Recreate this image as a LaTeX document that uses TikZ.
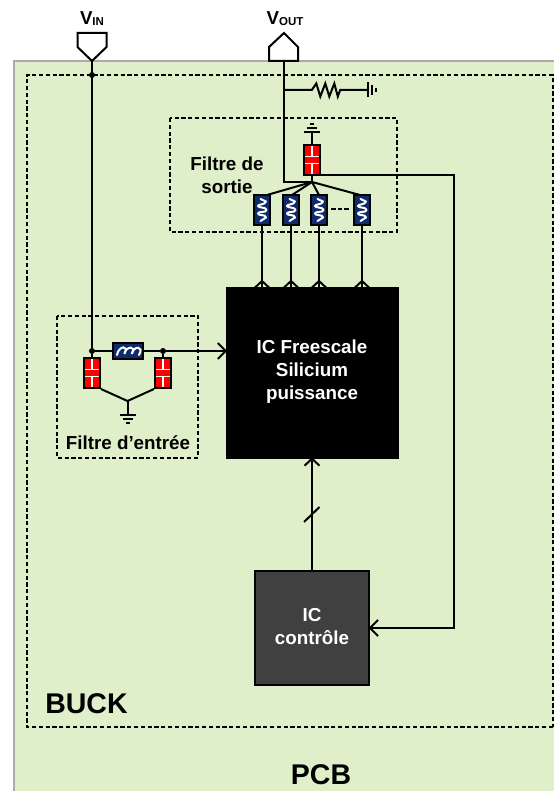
\documentclass[tikz,border=0pt]{standalone}
\usepackage{fontspec}
\setmainfont{Liberation Sans}
\usetikzlibrary{calc}
\definecolor{pcbgreen}{HTML}{DEEFCA}
\definecolor{pcbedge}{HTML}{ABABAB}
\definecolor{coilblue}{HTML}{0F2B6B}
\definecolor{ctrlgrey}{HTML}{404040}
\tikzset{
  wire/.style={line width=2pt,line cap=butt,line join=miter},
  dash box/.style={draw=black,line width=2pt,dash pattern=on 4.2pt off 2.6pt},
  txt/.style={font=\fontsize{18.8}{23}\selectfont\bfseries,inner sep=0pt,align=center},
  bigtxt/.style={font=\fontsize{28.5}{30}\selectfont\bfseries,inner sep=0pt},
  captall/.style={draw=black,fill=red,line width=2pt,minimum width=16pt,minimum height=30pt,inner sep=0pt},
  coilv/.style={draw=black,fill=coilblue,line width=2pt,minimum width=16pt,minimum height=30pt,inner sep=0pt},
  coilh/.style={draw=black,fill=coilblue,line width=2pt,minimum width=30pt,minimum height=16pt,inner sep=0pt},
  dot/.style={circle,fill=black,minimum size=6pt,inner sep=0pt},
  pinshape/.style={draw=black,fill=white,line width=2pt,line join=miter}
}
\newcommand{\capmark}[1]{%
  \draw[white,line width=1.8pt] ($(#1.north)+(0,2)$) -- ($(#1)+(0,-3.5)$);
  \draw[white,line width=1.8pt] ($(#1.south)+(0,-2)$) -- ($(#1)+(0,3.5)$);
  \draw[white,line width=1.8pt] ($(#1)+(-7,-3.5)$) -- ($(#1)+(7,-3.5)$);
  \draw[white,line width=1.8pt] ($(#1)+(-7,3.5)$) -- ($(#1)+(7,3.5)$);
}
\newcommand{\coilmarkv}[1]{%
  \draw[white,line width=2pt,line cap=round,line join=round] ($(#1)+(-1.5,-11)$)
    -- ($(#1)+(4,-8.5)$) .. controls ($(#1)+(3,-5)$) and ($(#1)+(-4,-6)$) .. ($(#1)+(-4,-4)$)
    .. controls ($(#1)+(-4,-2)$) and ($(#1)+(4.5,-3)$) .. ($(#1)+(4.5,0)$)
    .. controls ($(#1)+(4.5,3)$) and ($(#1)+(-4,1)$) .. ($(#1)+(-4,3.5)$)
    .. controls ($(#1)+(-4,6)$) and ($(#1)+(4,4)$) .. ($(#1)+(4,7.5)$)
    -- ($(#1)+(-1.5,11)$);
}
\newcommand{\coilmarkh}[1]{%
  \draw[white,line width=2pt,line cap=round] ($(#1)+(-11,4)$)
    .. controls +(1.5,-9.5) and +(5.5,-9.5) .. ($(#1)+(-3.7,3)$)
    .. controls +(1.5,-8.5) and +(5.9,-8.5) .. ($(#1)+(3.7,3)$)
    .. controls +(1.5,-8.5) and +(5.8,-9.5) .. ($(#1)+(11,4)$);
}
\newcommand{\gnddown}[1]{%
  \draw[line width=2pt] ($(#1)+(-8,0)$) -- ($(#1)+(8,0)$);
  \draw[line width=2pt] ($(#1)+(-5,4)$) -- ($(#1)+(5,4)$);
  \draw[line width=2pt] ($(#1)+(-2,8)$) -- ($(#1)+(2,8)$);
}
\newcommand{\gndup}[1]{%
  \draw[line width=2pt] ($(#1)+(-8,0)$) -- ($(#1)+(8,0)$);
  \draw[line width=2pt] ($(#1)+(-5,-4)$) -- ($(#1)+(5,-4)$);
  \draw[line width=2pt] ($(#1)+(-2,-8)$) -- ($(#1)+(2,-8)$);
}
\newcommand{\chevup}[1]{\draw[wire] ($(#1)+(-7.5,7)$) -- (#1) -- ($(#1)+(7.5,7)$);}
\newcommand{\chevleft}[1]{\draw[wire] ($(#1)+(8,-8)$) -- (#1) -- ($(#1)+(8,8)$);}
\newcommand{\chevright}[1]{\draw[wire] ($(#1)+(-8,-8)$) -- (#1) -- ($(#1)+(-8,8)$);}
\begin{document}
\begin{tikzpicture}[x=1pt,y=-1pt]
\useasboundingbox (0,0) rectangle (554,791);
% boards
\path[fill=pcbgreen] (14,61) rectangle (554,791);
\draw[pcbedge,line width=2pt] (14,791) -- (14,61) -- (554,61);
\draw[dash box] (553,727) -- (27,727) -- (27,75) -- (553,75) -- cycle;
\node[bigtxt,anchor=base] (buck) at (86.5,713) {BUCK};
\node[bigtxt,anchor=base] (pcb) at (321,784) {PCB};
% filter boxes
\draw[dash box] (170,118) rectangle (397,232);
\draw[dash box] (57,316) rectangle (198,458);
\node[txt] (outlabel) at (227,175) {Filtre de\\sortie};
\node[txt,anchor=base] (inlabel) at (128,449) {Filtre d’entrée};
% blocks
\node[draw=black,fill=black,minimum width=172pt,minimum height=171pt,inner sep=0pt] (ic) at (312,373) {};
\node[txt,white] (ictext) at (312,372) {IC Freescale\\Silicium\\puissance};
\node[draw=black,fill=ctrlgrey,line width=2pt,minimum width=114pt,minimum height=114pt,inner sep=0pt] (ctrl) at (312,628) {};
\node[txt,white] (ctrltext) at (312,627) {IC\\contrôle};
% pins
\coordinate (vintip) at (92,61);
\coordinate (vouttip) at (284,61);
\draw[pinshape] (vintip) -- ++(-14.5,-14) -- ++(0,-14) -- ++(29,0) -- ++(0,14) -- cycle;
\draw[pinshape] (269,61) -- (269,47) -- (284,33) -- (298,47) -- (298,61) -- cycle;
\node[anchor=base,inner sep=0pt] (vinlabel) at (92,25) {\fontsize{18.7}{20}\selectfont\bfseries V\raisebox{-1pt}{\fontsize{11.5}{12}\selectfont IN}};
\node[anchor=base,inner sep=0pt] (voutlabel) at (285,25) {\fontsize{18.7}{20}\selectfont\bfseries V\raisebox{-1pt}{\fontsize{11.5}{12}\selectfont OUT}};
% input filter
\node[dot] (dtop) at (92,75) {};
\node[dot] (dl) at (92,351) {};
\node[dot] (dr) at (163,351) {};
\node[coilh] (lin) at (128,351) {};
\coilmarkh{lin}
\node[captall] (cl) at (92,373) {};
\capmark{cl}
\node[captall] (cr) at (163,373) {};
\capmark{cr}
\coordinate (hubin) at (127.5,401);
\coordinate (gndin) at (128,415);
\coordinate (icin) at (ic.west |- dl);
\draw[wire] (vintip) -- (dl);
\draw[wire] (dl) -- (lin) (lin) -- (dr) -- (icin);
\chevright{icin}
\draw[wire] (dl) -- (cl);
\draw[wire] (dr) -- (cr);
\draw[wire] (cl.south east) -- (hubin) -- (cr.south west);
\draw[wire] (128,401) -- (gndin);
\gnddown{gndin}
% output filter
\coordinate (hubout) at (312,182);
\node[captall] (cout) at (312,160) {};
\capmark{cout}
\coordinate (gndout) at (312,132);
\draw[wire] (cout) -- (gndout);
\gndup{gndout}
\draw[wire] (vouttip) -- (284,182) -- (hubout);
\draw[wire] (cout) -- (hubout);
\draw[wire] (hubout) -- (267,195);
\draw[wire] (hubout) -- (292,195);
\draw[wire] (hubout) -- (319,195);
\draw[wire] (hubout) -- (360,195);
\node[coilv] (l1) at (262,210) {}; \coilmarkv{l1}
\node[coilv] (l2) at (291,210) {}; \coilmarkv{l2}
\node[coilv] (l3) at (319,210) {}; \coilmarkv{l3}
\node[coilv] (l4) at (362,210) {}; \coilmarkv{l4}
\draw[wire,dash pattern=on 4.6pt off 2pt] (331,209) -- (350.5,209);
\foreach \n in {1,2,3,4}{
  \coordinate (t\n) at (l\n |- 0,281);
  \draw[wire] (l\n.south) -- (l\n |- ic.north);
  \chevup{t\n}
}
% resistor to ground
\coordinate (jr) at (284,90);
\node[minimum width=28pt,minimum height=14pt,inner sep=0pt] (res) at (326,90) {};
\coordinate (gndr) at (368,90);
\draw[wire] (jr) -- (res.west) -- ++(4.5,-6.5) -- ++(4,13) -- ++(5,-13) -- ++(4,13) -- ++(5,-13) -- ++(3.5,13) -- (res.east) -- (gndr);
\draw[line width=2pt] (368,82) -- (368,97);
\draw[line width=2pt] (372,85) -- (372,95);
\draw[line width=2pt] (376,88) -- (376,92);
% control
\coordinate (fbk) at (454,175);
\coordinate (fbk2) at (454,628);
\coordinate (ctrlin) at (ctrl.east |- fbk2);
\draw[wire] (cout.east |- fbk) -- (fbk) -- (fbk2) -- (ctrlin);
\chevleft{ctrlin}
\coordinate (icbot) at (ic.south);
\draw[wire] (ctrl.north) -- (icbot);
\chevup{icbot}
\coordinate (sa) at (304,522);
\coordinate (sb) at (319.5,507);
\draw[wire] (sa) -- (sb);
\end{tikzpicture}
\end{document}
